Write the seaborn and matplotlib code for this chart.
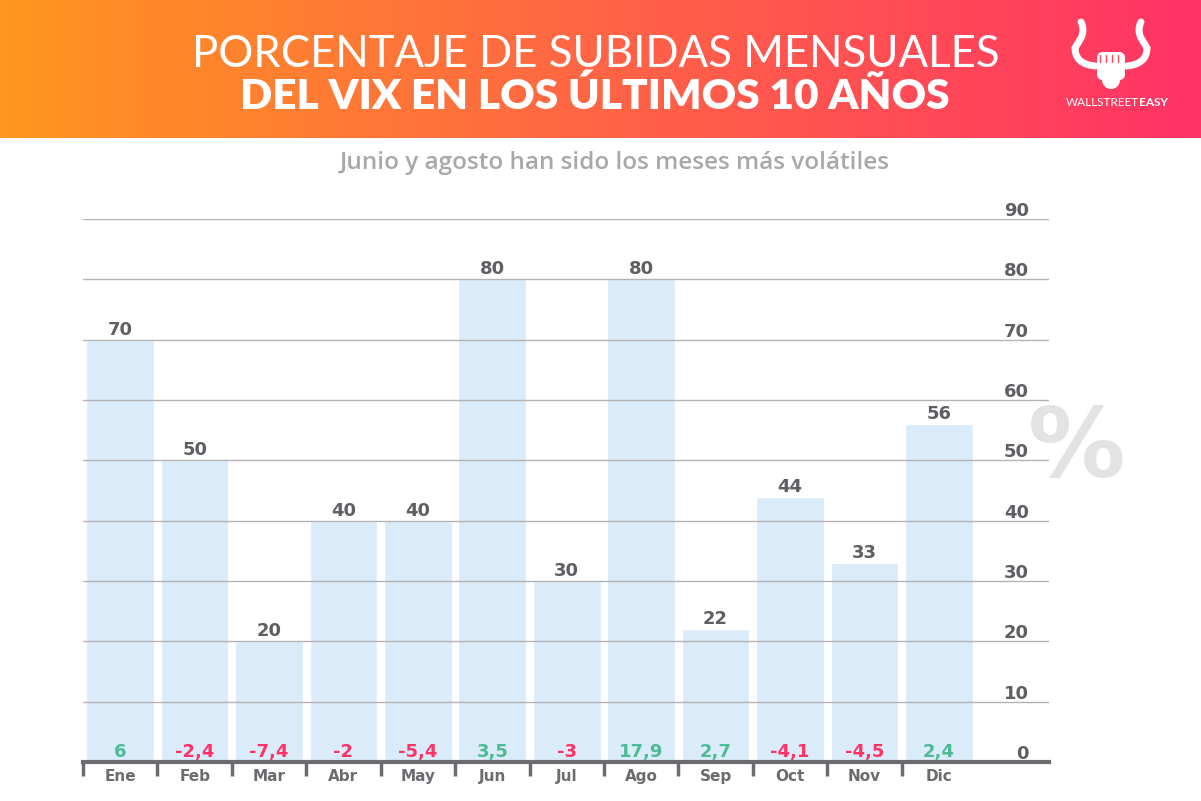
import matplotlib
matplotlib.use("Agg")
import matplotlib.pyplot as plt
import matplotlib.transforms as mtransforms
from matplotlib.colors import LinearSegmentedColormap
from matplotlib.patches import FancyBboxPatch, Circle
from matplotlib.path import Path
from matplotlib.patches import PathPatch
import numpy as np
import pandas as pd
import seaborn as sns

# data
months = ["Ene", "Feb", "Mar", "Abr", "May", "Jun", "Jul", "Ago", "Sep", "Oct", "Nov", "Dic"]
pct_up = [70, 50, 20, 40, 40, 80, 30, 80, 22, 44, 33, 56]
avg_change = ["6", "-2,4", "-7,4", "-2", "-5,4", "3,5", "-3", "17,9", "2,7", "-4,1", "-4,5", "2,4"]
y_ticks = [0, 10, 20, 30, 40, 50, 60, 70, 80, 90]

title_1 = "PORCENTAJE DE SUBIDAS MENSUALES"
title_2 = "DEL VIX EN LOS ÚLTIMOS 10 AÑOS"
subtitle = "Junio y agosto han sido los meses más volátiles"

BAR = "#daebf9"
DARK = "#5d5f63"
GRID = "#b3b3b5"
GREEN = "#4dbb93"
RED = "#ff3366"

sns.set_theme(style="white")
plt.rcParams["font.family"] = ["DejaVu Sans"]

W, H = 1201, 801
fig = plt.figure(figsize=(W / 100, H / 100), dpi=100)

# header band with orange -> pink gradient
hdr = fig.add_axes([0, (H - 138) / H, 1, 138 / H])
cmap = LinearSegmentedColormap.from_list("hdr", ["#ff961f", "#ff6545", "#ff3366"])
hdr.imshow(np.linspace(0, 1, 400)[None, :], aspect="auto", cmap=cmap, extent=[0, W, 138, 0])
hdr.set_xlim(0, W)
hdr.set_ylim(138, 0)
hdr.axis("off")
hdr.text(596, 67, title_1, ha="center", va="baseline", color="white",
         fontsize=31.5, family=["Lato", "DejaVu Sans"], fontweight="normal")
hdr.text(595, 109, title_2, ha="center", va="baseline", color="white",
         fontsize=30.5, family=["Lato", "DejaVu Sans"], fontweight="heavy")

# rough logo: horns + fist
for sgn in (-1, 1):
    cx = 1111
    verts = [(cx + sgn * 16, 66), (cx + sgn * 36, 64), (cx + sgn * 36, 48),
             (cx + sgn * 30, 38), (cx + sgn * 26, 30), (cx + sgn * 30, 22)]
    codes = [Path.MOVETO, Path.CURVE3, Path.CURVE3, Path.LINETO, Path.CURVE3, Path.CURVE3]
    hdr.add_patch(PathPatch(Path(verts, codes), fill=False, ec="white", lw=5, capstyle="round"))
hdr.add_patch(FancyBboxPatch((1099, 54), 24, 24, boxstyle="round,pad=2,rounding_size=6",
                             fc="white", ec="none"))
hdr.add_patch(Circle((1111, 80), 9, fc="white", ec="none"))
for i in range(4):
    hdr.plot([1100 + i * 6, 1100 + i * 6], [55, 62], color="#ff4a5a", lw=1)
hdr.text(1139, 103, "WALLSTREET", ha="right", va="center", color="white",
         fontsize=8.5, family=["Lato", "DejaVu Sans"])
hdr.text(1139, 103, "EASY", ha="left", va="center", color="white",
         fontsize=8.5, family=["Lato", "DejaVu Sans"], fontweight="bold")

fig.text(615 / W, 1 - 163 / H, subtitle, ha="center", va="center", color="#a7a8aa",
         fontsize=17.5, family=["Open Sans", "DejaVu Sans"], fontweight="semibold")

# main chart
ax = fig.add_axes([83 / W, (H - 762) / H, (1049 - 83) / W, (762 - 219) / H])
df = pd.DataFrame({"mes": months, "pct": pct_up, "chg": avg_change})
sns.barplot(data=df, x="mes", y="pct", order=months, color=BAR, saturation=1,
            width=0.91, ax=ax, zorder=1)
ax.set_xlim(-0.5, 12.48)
ax.set_ylim(0, 90)
ax.set_xlabel("")
ax.set_ylabel("")

ax.set_yticks(y_ticks)
ax.set_yticklabels([])
ax.tick_params(axis="y", length=0)
ax.yaxis.grid(True, color=GRID, lw=1)
ax.set_axisbelow(False)

for s in ("top", "left", "right"):
    ax.spines[s].set_visible(False)
ax.spines["bottom"].set_color("#6b6c70")
ax.spines["bottom"].set_linewidth(3)
ax.spines["bottom"].set_zorder(5)

pos = np.arange(len(months))
ax.set_xticks(pos - 0.5)
ax.set_xticklabels([])
ax.set_xticks(pos, minor=True)
ax.set_xticklabels(months, minor=True, fontsize=11, fontweight="bold", color="#6b6c70")
ax.tick_params(axis="x", which="major", direction="out", length=10, width=2.5,
               color="#6b6c70", bottom=True)
ax.tick_params(axis="x", which="minor", length=0, pad=5)

# y labels sit just above their gridline, right aligned
ylab_tr = mtransforms.blended_transform_factory(ax.transAxes, ax.transData)
ylab_tr = ylab_tr + mtransforms.ScaledTranslation(0, 3 / 100, fig.dpi_scale_trans)
for v in y_ticks:
    ax.text((1029 - 83) / (1049 - 83), v, str(v), transform=ylab_tr, ha="right",
            va="baseline", fontsize=13, fontweight="bold", color=DARK)

# value labels
off = mtransforms.ScaledTranslation(0, 5 / 100, fig.dpi_scale_trans)
for i, (v, c) in enumerate(zip(pct_up, avg_change)):
    ax.text(i, v, str(v), ha="center", va="baseline", fontsize=13, fontweight="bold",
            color=DARK, transform=ax.transData + off)
    ax.text(i, 0, c, ha="center", va="baseline", fontsize=13, fontweight="bold",
            color=RED if c.startswith("-") else GREEN, transform=ax.transData + off)

fig.text(1077 / W, 1 - 450 / H, "%", ha="center", va="center", fontsize=70,
         fontweight="bold", color="#e3e3e4")

fig.savefig("out.png", dpi=100, facecolor="white")
